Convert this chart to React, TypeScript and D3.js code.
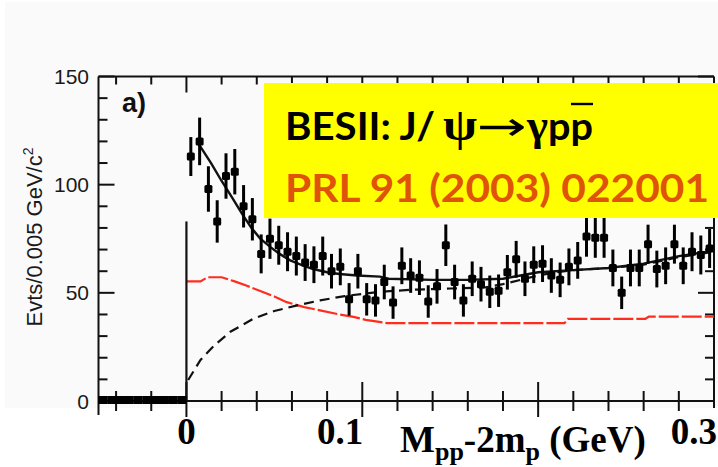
import React from "react";
import * as d3 from "d3";

// ---- data ----
const binWidth = 0.005; // GeV
const xStart = -0.05;
const belowThreshold = [0, 0, 0, 0, 0, 0, 0, 0, 0, 0]; // bins from -0.05 to 0
const counts = [
  113, 120, 98, 83, 104, 106, 90, 84, 68, 75,
  72, 69, 67, 64, 63, 67, 60, 62, 47, 60,
  47, 46.5, 55, 45.5, 62.5, 58, 57, 46, 53, 72,
  55, 46.5, 56.5, 54, 50.5, 51, 59.5, 65.5, 56.5, 63,
  63.5, 58, 56, 62, 65, 76, 75.5, 75.5, 61.5, 50,
  61.5, 61.5, 72.5, 61, 62.5, 72.5, 62.5, 69, 67.5, 70.5,
];
const errors = [
  9, 11, 10.5, 9.8, 10.5, 10.5, 9.8, 9.8, 9, 9.3,
  9, 9, 9, 8.5, 8.5, 9, 8, 8.5, 7.5, 8,
  7.5, 7.5, 8, 7.5, 8.5, 8, 8, 7.5, 8, 9.6,
  8, 7.5, 8, 8, 7.5, 7.5, 8, 8.5, 8, 8.5,
  8.5, 8, 8, 8.5, 8.5, 9.3, 9.3, 9.3, 8.5, 7.5,
  8.5, 8.5, 9, 8.5, 8.5, 9, 8.5, 9, 9, 9,
];
// total fit (solid black)
const totalFit: [number, number][] = [
  [0.006, 120], [0.014, 110], [0.02, 101.7], [0.026, 94], [0.032, 86],
  [0.037, 80], [0.042, 75], [0.048, 71], [0.053, 68], [0.059, 65],
  [0.065, 63], [0.072, 61], [0.08, 59.5], [0.087, 58.7], [0.097, 58],
  [0.11, 57.5], [0.115, 56.5], [0.14, 56], [0.16, 56], [0.18, 56.5],
  [0.19, 58], [0.2, 59.5], [0.22, 60.5], [0.24, 61.5], [0.26, 63.5],
  [0.28, 67], [0.3, 69.5],
];
const thresholdEdge: [number, number][] = [[0, 0], [0, 83]];
// resonance component (red dashed)
const resonance: [number, number][] = [
  [0.0, 55.3], [0.008, 55.3], [0.012, 57.2], [0.02, 57.2], [0.027, 55.4],
  [0.034, 53.4], [0.042, 50.8], [0.05, 48.3], [0.057, 45.7], [0.067, 43.4],
  [0.076, 41.9], [0.087, 40], [0.095, 38.9], [0.102, 37.5], [0.114, 36],
  [0.215, 36], [0.217, 38], [0.261, 38], [0.263, 39], [0.3, 39],
];
// phase-space / background component (black dashed)
const background: [number, number][] = [
  [0.001, 9.7], [0.008, 19], [0.016, 25.8], [0.025, 32], [0.038, 38],
  [0.05, 41.6], [0.063, 44.2], [0.076, 46.5], [0.09, 48.5], [0.11, 50.5],
  [0.13, 51.5], [0.15, 52], [0.17, 52.5], [0.18, 54], [0.19, 56],
  [0.2, 58], [0.21, 59.5], [0.22, 60.5], [0.24, 61.5], [0.26, 63],
  [0.28, 66.5], [0.3, 69],
];
const yTickValues = [0, 50, 100, 150];
const xTickLabels = [
  { v: 0, label: "0", anchor: "middle", dx: 0 },
  { v: 0.1, label: "0.1", anchor: "end", dx: 1 },
  { v: 0.3, label: "0.3", anchor: "end", dx: 3 },
];

export default function App() {
  const x = d3.scaleLinear().domain([-0.05, 0.3]).range([98.5, 714]);
  const y = d3.scaleLinear().domain([0, 150]).range([401, 76.5]);
  const line = d3
    .line<[number, number]>()
    .x((d) => x(d[0]))
    .y((d) => y(d[1]));

  const bx = (i: number, offset: number) => xStart + offset * binWidth + (i + 0.5) * binWidth;

  const minorX = d3.range(-2, 15).filter((i) => i % 5 !== 0).map((i) => i * 0.02);
  const majorX = [0, 0.1, 0.2];
  const yTicks = d3.range(0, 16).map((i) => i * 10);

  const ms = 8; // marker size
  const serif = "'Liberation Serif', 'Times New Roman', serif";
  const sans = "'Liberation Sans', Arial, sans-serif";
  const cal = "Lato, 'Open Sans', sans-serif";

  return (
    <div style={{ position: "absolute", left: 0, top: 0 }}>
      <svg width={718} height={467} viewBox="0 0 718 467">
        <rect x={0} y={0} width={718} height={467} fill="#ffffff" />
        <rect x={5} y={2} width={713} height={406} fill="#fafafa" />

        {/* frame */}
        <g stroke="#111" strokeWidth={2} fill="none">
          <line x1={x(-0.05)} x2={x(-0.05)} y1={y(150)} y2={415} />
          <line x1={x(-0.05)} x2={x(0.3)} y1={y(150)} y2={y(150)} />
          <line x1={x(0.3)} x2={x(0.3)} y1={y(150)} y2={408} />
          <line x1={x(-0.05)} x2={x(0.3)} y1={y(0)} y2={y(0)} />
        </g>

        {/* x ticks */}
        <g stroke="#111" strokeWidth={2}>
          {minorX.map((v) => (
            <g key={"mx" + v}>
              <line x1={x(v)} x2={x(v)} y1={y(0) - 10} y2={y(0) + 10} />
              <line x1={x(v)} x2={x(v)} y1={y(150)} y2={y(150) + 8} />
            </g>
          ))}
          {majorX.map((v) => (
            <g key={"Mx" + v}>
              <line x1={x(v)} x2={x(v)} y1={y(0) - 19} y2={y(0) + 16} />
              <line x1={x(v)} x2={x(v)} y1={y(150)} y2={y(150) + 16} />
            </g>
          ))}
        </g>

        {/* y ticks */}
        <g stroke="#111" strokeWidth={2}>
          {yTicks.map((v) => {
            const len = v % 50 === 0 ? 16 : 9;
            return (
              <g key={"yt" + v}>
                <line x1={x(-0.05)} x2={x(-0.05) + len} y1={y(v)} y2={y(v)} />
                <line x1={x(0.3)} x2={x(0.3) - len} y1={y(v)} y2={y(v)} />
              </g>
            );
          })}
        </g>

        {/* y tick labels */}
        <g fontFamily={sans} fontSize={21} fill="#1a1a1a" textAnchor="end">
          {yTickValues.map((v) => (
            <text key={"yl" + v} x={89} y={y(v)} dy="0.36em">
              {v}
            </text>
          ))}
        </g>

        {/* y axis title */}
        <text
          transform="translate(42,237) rotate(-90)"
          fontFamily={sans}
          fontSize={22}
          fill="#1a1a1a"
          textAnchor="middle"
        >
          Evts/0.005 GeV/c
          <tspan fontSize={14} dy={-9}>
            2
          </tspan>
        </text>

        {/* a) */}
        <text x={122} y={112} fontFamily={sans} fontSize={27} fontWeight="bold" fill="#111">
          a)
        </text>

        {/* fit curves */}
        <path d={line(resonance) || ""} fill="none" stroke="#ff2d1e" strokeWidth={2.2} strokeDasharray="20 3" />
        <path d={line(background) || ""} fill="none" stroke="#111" strokeWidth={2.2} strokeDasharray="10 6" />
        <path d={line(totalFit) || ""} fill="none" stroke="#111" strokeWidth={2.4} />
        <path d={line(thresholdEdge) || ""} fill="none" stroke="#111" strokeWidth={2.2} />

        {/* data below threshold */}
        <g fill="#000">
          {belowThreshold.map((c, i) => (
            <rect key={"b" + i} x={x(bx(i, 0)) - 4.5} y={y(c) - 5} width={9} height={8} />
          ))}
        </g>

        {/* data above threshold */}
        <g>
          {counts.map((c, i) => {
            const cx = x(bx(i, 10));
            return (
              <g key={"d" + i}>
                <line x1={cx} x2={cx} y1={y(c + errors[i])} y2={y(c - errors[i])} stroke="#000" strokeWidth={3} />
                <rect x={cx - ms / 2} y={y(c) - ms / 2} width={ms} height={ms} rx={1.5} fill="#000" />
              </g>
            );
          })}
        </g>

        {/* yellow label box */}
        <rect x={264} y={83} width={454} height={135} fill="#ffff00" />
        <g fontWeight="bold">
          <text x={285} y={140} fontFamily={cal} fontSize={39} fill="#000" textLength={150} lengthAdjust="spacingAndGlyphs">
            BESII: J/
          </text>
          <text x={443} y={140} fontFamily={serif} fontSize={46} fill="#000" textLength={34} lengthAdjust="spacingAndGlyphs">
            ψ
          </text>
          <text x={477} y={140} fontFamily="'DejaVu Sans', sans-serif" fontWeight="normal" fontSize={40} fill="#000" textLength={50} lengthAdjust="spacingAndGlyphs">
            →
          </text>
          <text x={527} y={140} fontFamily={serif} fontSize={44} fill="#000" textLength={21} lengthAdjust="spacingAndGlyphs">
            γ
          </text>
          <text x={548} y={140} fontFamily={cal} fontSize={39} fill="#000" textLength={45} lengthAdjust="spacingAndGlyphs">
            pp
          </text>
          <text x={285} y={202} fontFamily={cal} fontSize={39} fill="#e0540a" textLength={424} lengthAdjust="spacingAndGlyphs">
            PRL 91 (2003) 022001
          </text>
        </g>
        <line x1={571} x2={593} y1={104} y2={104} stroke="#000" strokeWidth={2.4} />

        {/* x tick labels */}
        <g fontFamily={serif} fontWeight="bold" fontSize={37} fill="#000">
          {xTickLabels.map((t) => (
            <text key={"xl" + t.label} x={x(t.v) + t.dx} y={444} textAnchor={t.anchor as any}>
              {t.label}
            </text>
          ))}
        </g>

        {/* x axis title */}
        <text x={400} y={452} fontFamily={serif} fontWeight="bold" fontSize={37} fill="#000">
          M
          <tspan fontSize={26} dy={8}>pp</tspan>
          <tspan fontSize={37} dy={-8}>-2m</tspan>
          <tspan fontSize={26} dy={8}>p</tspan>
          <tspan fontSize={37} dy={-8}> (GeV)</tspan>
        </text>
      </svg>
    </div>
  );
}
